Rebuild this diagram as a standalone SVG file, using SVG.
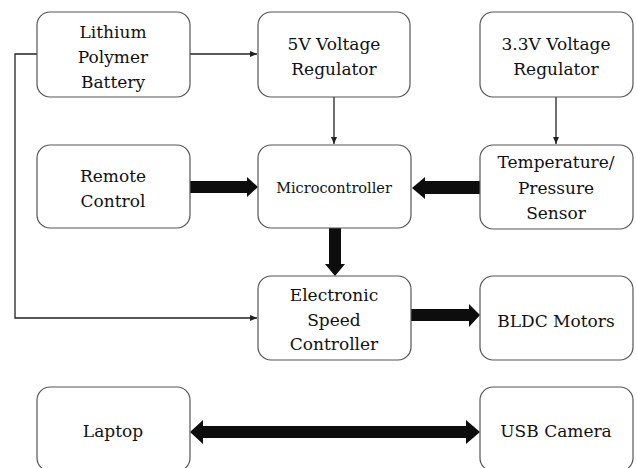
<svg xmlns="http://www.w3.org/2000/svg" width="637" height="468" viewBox="0 0 637 468">
<style>
.box{fill:#fff;stroke:#555;stroke-width:1.2}
.t{font-family:"DejaVu Serif","Liberation Serif",serif;font-size:17px;fill:#111;text-anchor:middle}
.s{font-size:14.5px}
.ln{fill:none;stroke:#222;stroke-width:1.3}
.th{fill:#0d0d0d}
</style>
<defs>
<marker id="a" markerWidth="8" markerHeight="8" refX="7" refY="4" orient="auto" markerUnits="userSpaceOnUse">
<path d="M0,1 L7,4 L0,7 Z" fill="#222"/>
</marker>
</defs>
<rect width="637" height="468" fill="#fff"/>
<g id="connectors">
<path class="ln" d="M190,54 H257" marker-end="url(#a)"/>
<path class="ln" d="M37,54 H15 V318 H257" marker-end="url(#a)"/>
<path class="ln" d="M334,97 V144" marker-end="url(#a)"/>
<path class="ln" d="M556,97 V144" marker-end="url(#a)"/>
<path class="th" d="M190,181 H247 V177 L258,187 L247,197 V193 H190 Z"/>
<path class="th" d="M480,181 H425 V177 L412,188 L425,199 V194 H480 Z"/>
<path class="th" d="M329,228 V264 H325 L335,276 L345,264 H341 V228 Z"/>
<path class="th" d="M411,309 H469 V304 L480,315 L469,327 V321 H411 Z"/>
<path class="th" d="M203,426 H466 V420 L480,432 L466,444 V438 H203 V444 L190,432 L203,420 Z"/>
</g>
<g id="battery"><rect class="box" x="37" y="12" width="153" height="85" rx="13"/>
<text class="t" x="113" y="38">Lithium</text><text class="t" x="113" y="63">Polymer</text><text class="t" x="113" y="88">Battery</text></g>
<g id="reg5"><rect class="box" x="258" y="12" width="152" height="85" rx="13"/>
<text class="t" x="334" y="50">5V Voltage</text><text class="t" x="334" y="75">Regulator</text></g>
<g id="reg33"><rect class="box" x="480" y="12" width="153" height="85" rx="13"/>
<text class="t" x="556" y="50">3.3V Voltage</text><text class="t" x="556" y="75">Regulator</text></g>
<g id="remote"><rect class="box" x="37" y="145" width="153" height="83" rx="13"/>
<text class="t" x="113" y="182">Remote</text><text class="t" x="113" y="207">Control</text></g>
<g id="micro"><rect class="box" x="258" y="145" width="153" height="83" rx="13"/>
<text class="t s" x="334" y="193">Microcontroller</text></g>
<g id="sensor"><rect class="box" x="480" y="145" width="153" height="84" rx="13"/>
<text class="t" x="556" y="168">Temperature/</text><text class="t" x="556" y="194">Pressure</text><text class="t" x="556" y="219">Sensor</text></g>
<g id="esc"><rect class="box" x="258" y="276" width="153" height="84" rx="13"/>
<text class="t" x="334" y="301">Electronic</text><text class="t" x="334" y="326">Speed</text><text class="t" x="334" y="350">Controller</text></g>
<g id="bldc"><rect class="box" x="480" y="276" width="153" height="84" rx="13"/>
<text class="t" x="556" y="327">BLDC Motors</text></g>
<g id="laptop"><rect class="box" x="37" y="387" width="153" height="84" rx="13"/>
<text class="t" x="113" y="437">Laptop</text></g>
<g id="camera"><rect class="box" x="480" y="387" width="153" height="84" rx="13"/>
<text class="t" x="556" y="437">USB Camera</text></g>
</svg>
